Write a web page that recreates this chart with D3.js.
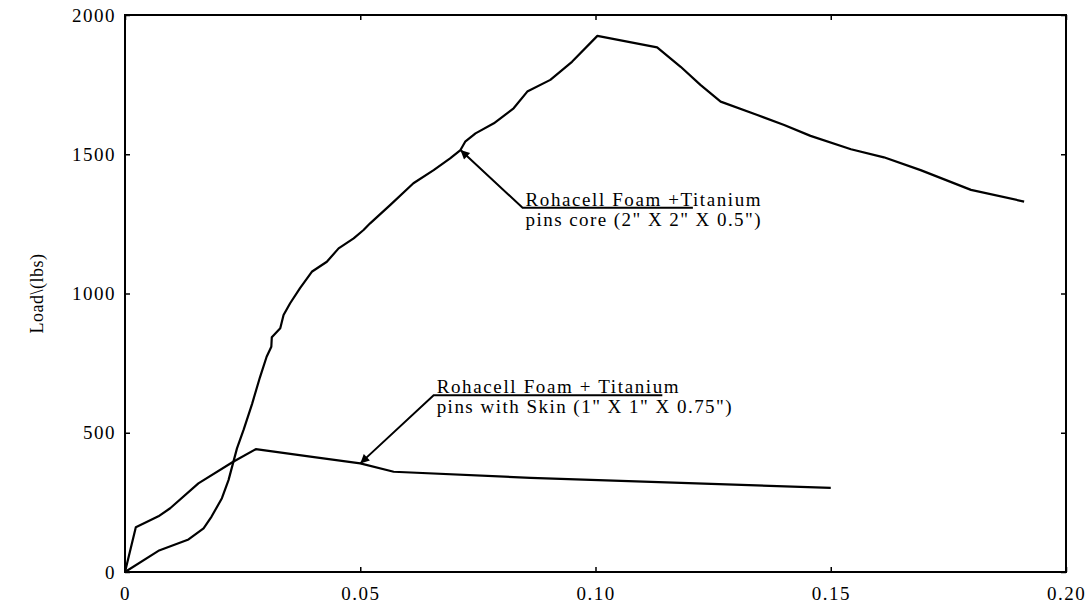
<!DOCTYPE html>
<html><head><meta charset="utf-8">
<script src="https://cdn.jsdelivr.net/npm/d3@7/dist/d3.min.js"></script>
<style>body{margin:0;background:#fff;} text{font-family:"Liberation Serif","Times New Roman",serif;fill:#000;}</style>
</head><body>
<svg id="chart" width="1089" height="607"></svg>
<script>
// Data (displacement in inches, load in lbs)
const coreX = [0,0.0071,0.0135,0.0167,0.0184,0.0206,0.0220,0.0238,0.0252,0.0270,0.0287,0.0301,0.0311,0.0312,0.0330,0.0337,0.0351,0.0372,0.0397,0.0429,0.0454,0.0486,0.0507,0.0521,0.0564,0.0613,0.0656,0.0691,0.0713,0.0723,0.0745,0.0784,0.0826,0.0855,0.0904,0.0950,0.1004,0.1131,0.1181,0.1223,0.1266,0.1344,0.1401,0.1457,0.1543,0.1613,0.1691,0.1798,0.1911];
const coreY = [0,76,117,157,199,265,330,444,510,603,700,773,809,843,875,923,965,1019,1078,1114,1162,1198,1228,1252,1318,1396,1443,1485,1515,1545,1575,1611,1665,1725,1767,1832,1925,1884,1814,1749,1689,1641,1605,1566,1518,1489,1443,1372,1330];
const skinX = [0,0.0023,0.0071,0.0096,0.0156,0.0230,0.0278,0.0394,0.0500,0.0571,0.0862,0.1500];
const skinY = [0,161,200,229,318,396,441,414,390,360,338,302];
const xTicks = [0,0.05,0.10,0.15,0.20];
const xTickLabels = ["0","0.05","0.10","0.15","0.20"];
const yTicks = [0,500,1000,1500,2000];
const yTickLabels = ["0","500","1000","1500","2000"];
const yLabel = "Load\\(lbs)";
const coreLabel = ["Rohacell Foam +Titanium","pins core (2\" X 2\" X 0.5\")"];
const skinLabel = ["Rohacell Foam + Titanium","pins with Skin (1\" X 1\" X 0.75\")"];
// annotation anchors (data coordinates)
const coreArrow = {tip:[0.0713,1515], tail:[0.0845,1308], end:[0.1207,1308]};
const skinArrow = {tip:[0.0500,390], tail:[0.0656,635], end:[0.1142,635]};

const svg = d3.select("#chart");
const L=125, R=1066, T=15, B=572;
const x = d3.scaleLinear().domain([0,0.20]).range([L,R]);
const y = d3.scaleLinear().domain([0,2000]).range([B,T]);

svg.append("defs").append("marker").attr("id","arr").attr("viewBox","0 0 10 10")
  .attr("refX",10).attr("refY",5).attr("markerWidth",15).attr("markerHeight",9)
  .attr("markerUnits","userSpaceOnUse").attr("orient","auto")
  .append("path").attr("d","M0,0 L10,5 L0,10 Z").attr("fill","#000");

const fmtX = d => xTickLabels[xTicks.indexOf(d)];
const fmtY = d => yTickLabels[yTicks.indexOf(d)];
const ax = (g)=>{g.select(".domain").remove(); g.selectAll("line").attr("stroke","#000").attr("stroke-width",1.5);
  g.selectAll("text").style("font-family","'Liberation Serif',serif").style("font-size","19px").attr("letter-spacing","1.5px");};

svg.append("g").attr("transform",`translate(0,${B})`)
  .call(d3.axisBottom(x).tickValues(xTicks).tickFormat(fmtX).tickSizeInner(-5).tickSizeOuter(0).tickPadding(15)).call(ax);
svg.append("g").attr("transform",`translate(0,${T})`)
  .call(d3.axisTop(x).tickValues(xTicks).tickFormat("").tickSizeInner(-5).tickSizeOuter(0)).call(ax);
svg.append("g").attr("transform",`translate(${L},0)`)
  .call(d3.axisLeft(y).tickValues(yTicks).tickFormat(fmtY).tickSizeInner(-5).tickSizeOuter(0).tickPadding(9)).call(ax);
svg.append("g").attr("transform",`translate(${R},0)`)
  .call(d3.axisRight(y).tickValues(yTicks).tickFormat("").tickSizeInner(-5).tickSizeOuter(0)).call(ax);

svg.append("rect").attr("x",L).attr("y",T).attr("width",R-L).attr("height",B-T)
  .attr("fill","none").attr("stroke","#000").attr("stroke-width",2);

const line = d3.line().x(d=>x(d[0])).y(d=>y(d[1]));
svg.append("path").datum(coreX.map((v,i)=>[v,coreY[i]])).attr("d",line)
  .attr("fill","none").attr("stroke","#000").attr("stroke-width",2.2).attr("stroke-linejoin","round");
svg.append("path").datum(skinX.map((v,i)=>[v,skinY[i]])).attr("d",line)
  .attr("fill","none").attr("stroke","#000").attr("stroke-width",2.2).attr("stroke-linejoin","round");

function annotate(a, lines, w1, w2){
  svg.append("path").attr("d",`M${x(a.end[0])},${y(a.end[1])} L${x(a.tail[0])},${y(a.tail[1])} L${x(a.tip[0])},${y(a.tip[1])}`)
    .attr("fill","none").attr("stroke","#000").attr("stroke-width",2).attr("marker-end","url(#arr)");
  const tx = x(a.tail[0])+3, ty = y(a.tail[1])-2;
  svg.append("text").attr("x",tx).attr("y",ty).style("font-size","19px")
    .attr("textLength",w1).attr("lengthAdjust","spacing").text(lines[0]);
  svg.append("text").attr("x",tx).attr("y",ty+20).style("font-size","19px")
    .attr("textLength",w2).attr("lengthAdjust","spacing").text(lines[1]);
}
annotate(coreArrow, coreLabel, 235, 235);
annotate(skinArrow, skinLabel, 242, 295);

svg.append("text").attr("transform",`translate(43,${(T+B)/2}) rotate(-90)`)
  .attr("text-anchor","middle").style("font-size","18px").attr("letter-spacing","0.5px").text(yLabel);
</script>
</body></html>
